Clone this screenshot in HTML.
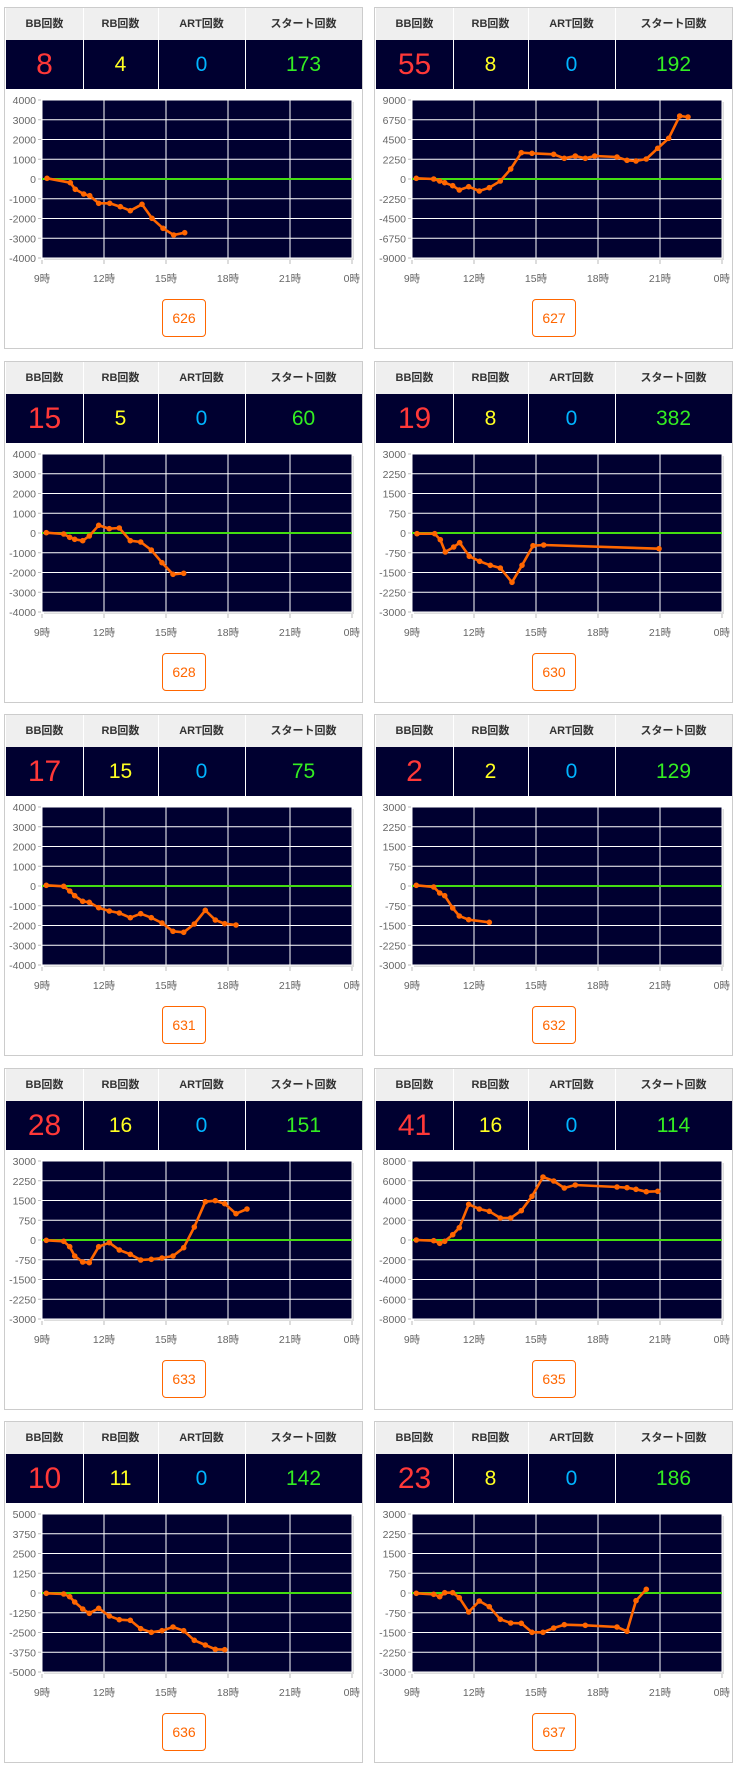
<!DOCTYPE html>
<html><head><meta charset="utf-8">
<style>
html,body{margin:0;padding:0;background:#fff;width:740px;height:1766px;overflow:hidden}
.card{position:absolute;width:357px;height:340px;border:1px solid #ccc;background:#fff;font-family:"Liberation Sans","Noto Sans CJK JP",sans-serif}
.hd{position:absolute;left:1px;top:0;width:356px;height:32px;background:#efefef}
.vl{position:absolute;left:1px;top:32px;width:356px;height:49px;background:#000030}
.c{position:absolute;text-align:center;box-sizing:border-box}
.hd .c{top:0;height:32px;line-height:32px;font-size:11px;font-weight:bold;color:#333}
.vl .c{top:0;height:49px;line-height:49px;font-size:21px}
.vl .c.big{font-size:30px}
.sep{position:absolute;top:0;width:1px;height:81px;background:#fff}
svg{position:absolute;left:0;top:0}
.btn{position:absolute;left:157px;top:291px;width:42px;height:36px;border:1px solid #f60;border-radius:4px;color:#f60;font-size:14px;line-height:36px;text-align:center}
</style></head><body>
<div id="root"></div>
<script>
var cards=[
{n:[8,4,0,173],id:626,max:4000,step:1000,pl:125,top:300,pts:[[140,535],[210,548],[225,568],[250,582],[268,587],[295,610],[328,610],[360,620],[390,632],[425,613],[455,655],[488,685],[520,705],[553,698]]},
{n:[55,8,0,192],id:627,max:9000,step:2250,pl:115,top:15,pts:[[128,250],[180,252],[198,258],[213,263],[237,272],[257,285],[285,275],[317,288],[347,278],[380,258],[411,222],[443,173],[475,175],[540,178],[572,190],[605,183],[635,190],[663,183],[730,186],[760,196],[787,198],[818,192],[852,160],[885,130],[918,63],[943,66]]},
{n:[15,5,0,60],id:628,max:4000,step:1000,pl:115,top:12,pts:[[128,248],[180,252],[198,262],[213,268],[237,272],[257,258],[285,226],[317,236],[347,234],[380,272],[411,276],[443,300],[475,338],[508,373],[540,370]]},
{n:[19,8,0,382],id:630,max:3000,step:750,pl:125,top:338,pts:[[140,577],[193,577],[210,595],[225,632],[250,617],[268,604],[297,645],[328,660],[360,672],[390,680],[425,723],[455,672],[488,613],[520,611],[866,622]]},
{n:[17,15,0,75],id:631,max:4000,step:1000,pl:115,top:10,pts:[[128,245],[180,248],[198,262],[213,276],[237,293],[257,296],[285,312],[317,322],[347,328],[380,342],[411,330],[443,342],[475,358],[508,383],[540,386],[572,361],[605,320],[635,349],[663,360],[697,364]]},
{n:[2,2,0,129],id:632,max:3000,step:750,pl:115,top:10,pts:[[128,245],[180,250],[198,268],[213,276],[237,313],[257,337],[285,348],[347,356]]},
{n:[28,16,0,151],id:633,max:3000,step:750,pl:115,top:5,pts:[[128,243],[180,246],[198,262],[213,290],[237,308],[257,310],[285,262],[317,250],[347,272],[380,285],[411,302],[443,300],[475,296],[508,290],[540,265],[572,203],[605,127],[635,124],[663,133],[697,163],[730,149]]},
{n:[41,16,0,114],id:635,max:8000,step:2000,pl:115,top:5,pts:[[128,242],[180,244],[198,252],[213,246],[237,226],[257,205],[285,135],[317,149],[347,156],[380,176],[411,176],[443,154],[475,111],[508,53],[540,65],[572,86],[605,77],[730,83],[760,85],[787,90],[818,97],[852,96]]},
{n:[10,11,0,142],id:636,max:5000,step:1250,pl:115,top:2,pts:[[128,240],[180,242],[198,250],[213,266],[237,287],[257,300],[285,285],[317,308],[347,319],[380,321],[411,346],[443,357],[475,352],[508,341],[540,352],[572,381],[605,395],[635,408],[663,409]]},
{n:[23,8,0,186],id:637,max:3000,step:750,pl:115,top:2,pts:[[128,240],[180,243],[198,250],[213,238],[237,238],[257,253],[285,296],[317,263],[347,280],[380,318],[411,329],[443,330],[475,357],[508,357],[540,344],[572,334],[635,336],[730,341],[760,354],[787,262],[818,228]]}
];
var cols=['#ff3838','#ffff22','#00b4ff','#33ee22'];
var heads=['BB回数','RB回数','ART回数','スタート回数'];
var bounds=[1,78,153,240,357];
var h='';
cards.forEach(function(c,i){
 var x=4+(i%2)*370, y=7+Math.floor(i/2)*353.5;
 var s='<div class="card" style="left:'+x+'px;top:'+Math.round(y)+'px">';
 s+='<div class="hd">';for(var k=0;k<4;k++)s+='<div class="c" style="left:'+(bounds[k]-1)+'px;width:'+(bounds[k+1]-bounds[k])+'px">'+heads[k]+'</div>';s+='</div>';
 s+='<div class="vl">';for(k=0;k<4;k++)s+='<div class="c'+(k==0?' big':'')+'" style="left:'+(bounds[k]-1)+'px;width:'+(bounds[k+1]-bounds[k])+'px;color:'+cols[k]+'">'+c.n[k]+'</div>';s+='</div>';
 for(k=1;k<4;k++)s+='<div class="sep" style="left:'+bounds[k]+'px"></div>';
 var L=37,T=92,W=310,H=158;
 var g='<svg width="357" height="340" font-family="Liberation Sans, Noto Sans CJK JP, sans-serif">';
 g+='<rect x="'+(L+2)+'" y="'+(T+2)+'" width="'+W+'" height="'+H+'" fill="#ddd"/>';
 g+='<rect x="'+L+'" y="'+T+'" width="'+W+'" height="'+H+'" fill="#000030"/>';
 for(k=0;k<=8;k++){var yy=T+k*H/8;g+='<line x1="'+L+'" x2="'+(L+W)+'" y1="'+yy+'" y2="'+yy+'" stroke="#fff" stroke-width="1"/>';
  g+='<line x1="'+(L-4)+'" x2="'+(L-1)+'" y1="'+yy+'" y2="'+yy+'" stroke="#bbb"/>';
  g+='<text x="'+(L-6)+'" y="'+(yy+4)+'" font-size="10.5" fill="#666" text-anchor="end">'+(c.max-k*c.step)+'</text>';}
 var xl=['9時','12時','15時','18時','21時','0時'];
 for(k=0;k<=5;k++){var xx=L+k*W/5;g+='<line x1="'+xx+'" x2="'+xx+'" y1="'+T+'" y2="'+(T+H)+'" stroke="#fff"/>';
  g+='<line x1="'+xx+'" x2="'+xx+'" y1="'+(T+H+2)+'" y2="'+(T+H+6)+'" stroke="#bbb"/>';
  g+='<text x="'+xx+'" y="'+(T+H+24)+'" font-size="10.5" fill="#666" text-anchor="'+(k==5?'end':'middle')+'"'+(k==5?' dx="8"':'')+'>'+xl[k]+'</text>';}
 g+='<line x1="'+L+'" x2="'+(L+W)+'" y1="'+(T+H/2)+'" y2="'+(T+H/2)+'" stroke="#44dd11" stroke-width="2"/>';
 var p=c.pts.map(function(q){return [(L+(q[0]-c.pl)/3).toFixed(1),(T+(q[1]-c.top)/3).toFixed(1)];});
 g+='<polyline points="'+p.map(function(q){return q.join(',')}).join(' ')+'" fill="none" stroke="#ff6600" stroke-width="2.6" stroke-linejoin="round"/>';
 p.forEach(function(q){g+='<circle cx="'+q[0]+'" cy="'+q[1]+'" r="2.8" fill="#ff6600"/>';});
 g+='</svg>';
 s+=g+'<div class="btn">'+c.id+'</div></div>';
 h+=s;
});
document.getElementById('root').innerHTML=h;
</script>
</body></html>
